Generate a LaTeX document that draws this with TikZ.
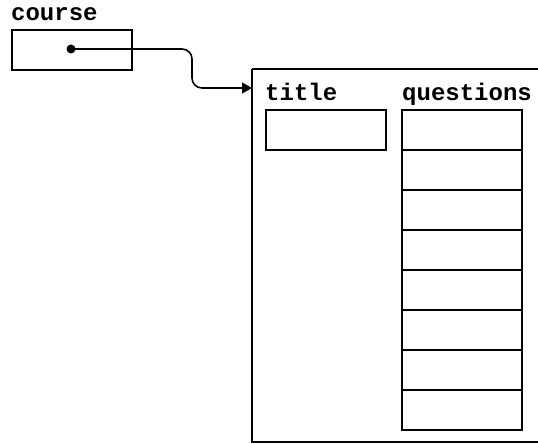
\documentclass[tikz,border=0pt]{standalone}
\usepackage{fontspec}
\setmonofont{Liberation Mono}
\usetikzlibrary{arrows.meta}
\begin{document}
\begin{tikzpicture}[x=1pt,y=1pt,
  lbl/.style={font=\ttfamily\bfseries\fontsize{24}{24}\selectfont, anchor=base west, inner sep=0pt},
  cell/.style={draw, line width=1.6pt, minimum width=120pt, minimum height=40pt, inner sep=0pt, anchor=north west},
  link/.style={line width=1.6pt, rounded corners=10pt, -{Triangle[length=10pt,width=11pt]}}
]
\useasboundingbox (0,0) rectangle (538,-444);
\fill[white] (0,0) rectangle (538,-444);
% course variable
\node[lbl] (courselbl) at (11,-21) {course};
\node[cell] (coursebox) at (11,-29) {};
\coordinate (dot) at (71,-49);
\fill (dot) circle (4.5pt);
% object
\draw[line width=1.6pt] (252,-69) -- (560,-69) (252,-69) |- (560,-442);
\coordinate (objin) at (252,-88);
\node[lbl] (titlelbl) at (265,-100) {title};
\node[cell] (titlebox) at (265,-109) {};
\node[lbl] (qlbl) at (402,-100) {questions};
\foreach \i in {0,...,7}{
  \node[cell] (q\i) at (401,-109-40*\i) {};
}
\draw[link] (dot) -- (192,-49) -- (192,-88) -- (objin);
\end{tikzpicture}
\end{document}
